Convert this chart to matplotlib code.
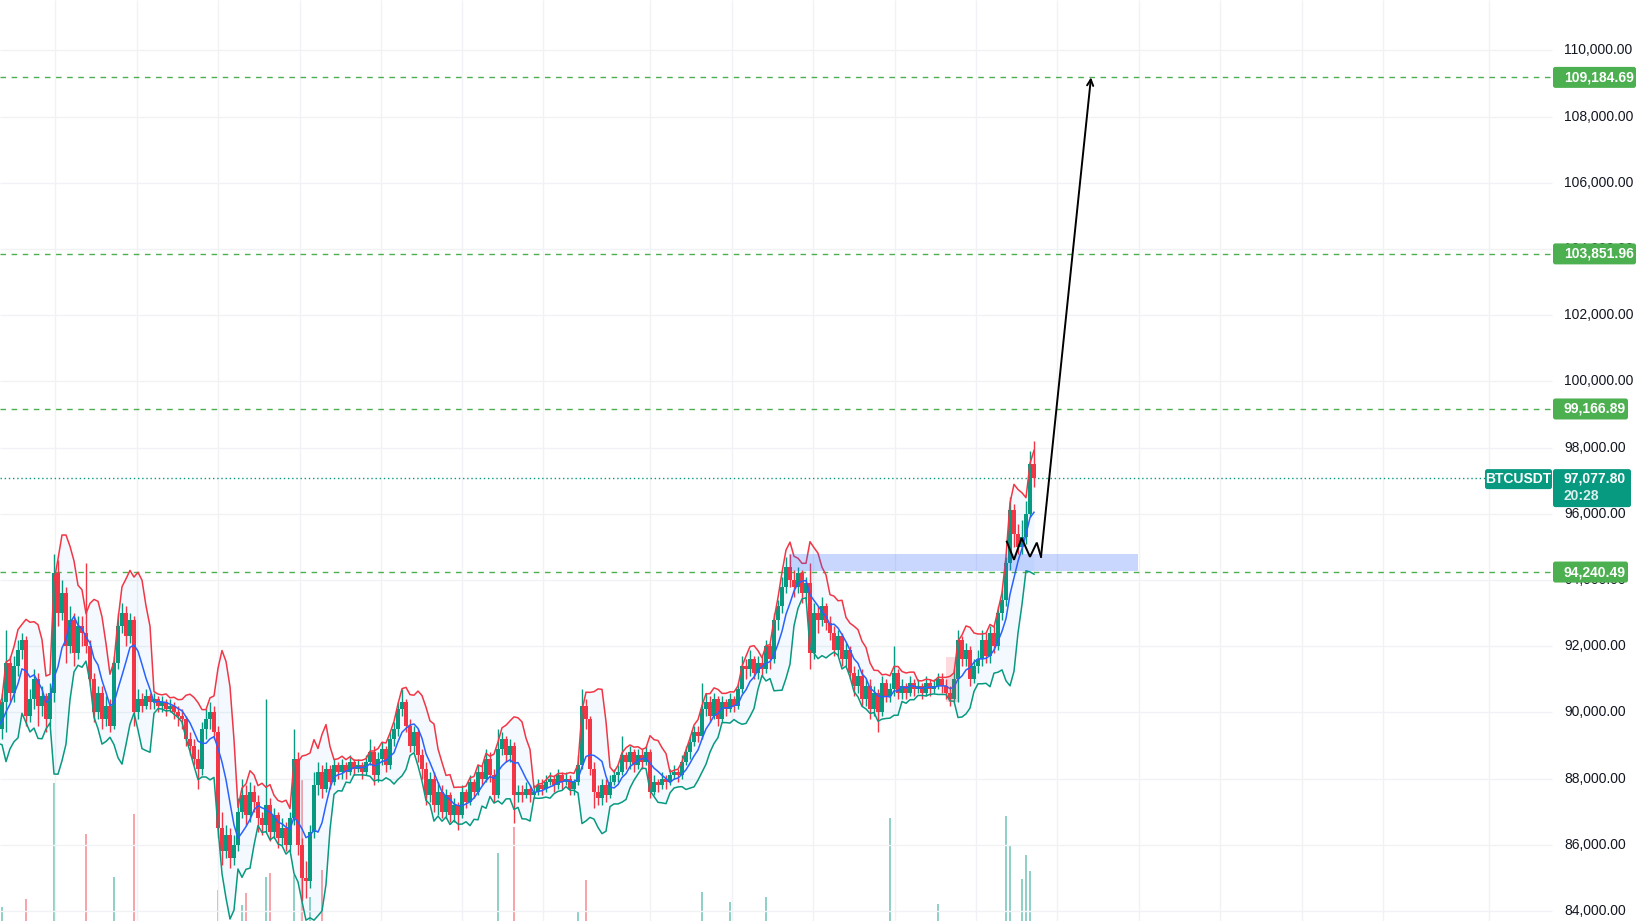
import matplotlib
matplotlib.use("Agg")
import matplotlib.pyplot as plt
from matplotlib.patches import FancyBboxPatch, Rectangle
import numpy as np
import pandas as pd

# BTCUSDT candles, prices in thousands of USDT.
# The first N_PRE candles sit left of the visible window (they only feed the bands).
N_PRE = 6
first_open = 89.6
close = [
    89.4, 89.8, 89.2, 89.6, 90.0, 89.5,
    90.3, 91.5, 90.6, 91.4, 91.9, 92.2, 89.9, 90.4, 91.0, 90.2,
    90.5, 89.8, 90.6, 94.2, 93.0, 93.6, 92.0, 92.8, 91.8, 92.6,
    92.4, 92.0, 91.0, 90.0, 90.6, 89.8, 90.2, 89.6, 91.5, 92.6,
    93.0, 92.3, 92.8, 90.0, 90.4, 90.2, 90.5, 90.3, 90.4, 90.2,
    90.3, 90.1, 90.2, 90.0, 89.9, 89.8, 89.2, 89.0, 88.6, 88.3,
    89.5, 89.8, 90.0, 89.4, 86.5, 85.8, 86.3, 85.6, 86.0, 87.0,
    87.5, 86.9, 87.6, 87.3, 86.8, 86.6, 87.2, 86.4, 86.9, 86.2,
    86.5, 86.0, 86.8, 88.6, 86.0, 85.0, 84.9, 86.4, 87.8, 88.2,
    87.7, 88.3, 87.9, 88.4, 88.2, 88.4, 88.2, 88.5, 88.3, 88.4,
    88.2, 88.5, 88.8, 88.1, 88.6, 88.9, 88.4, 89.2, 89.5, 90.1,
    90.3, 89.6, 89.0, 89.4, 88.7, 88.3, 87.5, 88.0, 87.2, 87.6,
    87.0, 87.5, 86.9, 87.2, 86.9, 87.6, 87.3, 87.9, 87.6, 88.2,
    88.0, 88.6, 88.1, 87.5, 88.9, 89.2, 88.7, 89.0, 87.5, 87.6,
    87.5, 87.7, 87.5, 87.6, 87.8, 87.7, 87.9, 88.0, 87.8, 88.1,
    87.9, 88.0, 87.7, 87.9, 88.4, 90.2, 89.8, 88.3, 87.6, 87.4,
    87.8, 87.5, 87.9, 88.1, 88.2, 88.7, 88.5, 88.8, 88.4, 88.7,
    88.5, 88.8, 87.6, 87.9, 87.8, 88.0, 87.9, 88.1, 88.2, 88.1,
    88.5, 88.8, 89.1, 89.4, 89.3, 90.1, 90.3, 89.9, 90.4, 89.8,
    90.3, 90.1, 90.4, 90.2, 90.7, 91.4, 91.3, 91.6, 91.2, 91.5,
    91.3, 92.0, 91.6, 92.8, 93.2, 93.8, 94.4, 94.0, 93.8, 94.2,
    93.6, 93.9, 91.8, 93.0, 92.8, 93.2, 92.7, 92.4, 91.9, 92.3,
    91.6, 91.9, 91.2, 90.8, 91.1, 90.4, 90.8, 90.1, 90.6, 90.0,
    90.9, 90.5, 90.7, 91.2, 90.6, 90.8, 90.6, 90.9, 90.7, 90.8,
    90.6, 90.9, 90.7, 90.8, 91.0, 90.8, 90.6, 90.4, 91.0, 92.2,
    91.6, 91.9, 91.0, 91.4, 91.6, 92.2, 91.7, 92.4, 92.0, 93.0,
    93.4, 94.5, 96.1, 95.4, 95.0, 95.3, 96.0, 97.5, 97.0778,
]
high = [
    89.8, 90.0, 89.9, 89.8, 90.2, 90.1,
    90.6, 92.5, 91.7, 91.7, 92.2, 92.4, 92.3, 90.7, 91.3, 91.2,
    90.8, 90.6, 90.9, 94.8, 94.6, 94.0, 93.8, 93.2, 93.0, 92.9,
    92.9, 94.5, 92.2, 91.2, 90.8, 90.8, 90.5, 90.4, 91.7, 93.0,
    93.3, 93.2, 93.0, 92.9, 90.7, 90.6, 90.7, 90.6, 90.6, 90.5,
    90.5, 90.4, 90.4, 90.3, 90.2, 90.1, 89.9, 89.4, 89.2, 88.9,
    89.7, 90.1, 90.3, 90.2, 89.6, 87.0, 86.6, 86.5, 86.3, 87.4,
    88.0, 87.8, 87.9, 87.8, 87.5, 87.0, 90.4, 87.4, 87.1, 87.0,
    86.8, 86.7, 87.0, 89.5, 88.8, 86.2, 85.5, 86.6, 88.2, 88.5,
    88.4, 88.5, 88.4, 88.6, 88.5, 88.6, 88.5, 88.7, 88.6, 88.6,
    88.5, 88.7, 89.2, 89.0, 88.8, 89.1, 89.0, 89.4, 89.7, 90.3,
    90.7, 90.4, 89.8, 89.6, 89.5, 88.9, 88.5, 88.2, 88.2, 87.9,
    87.8, 87.7, 87.6, 87.4, 87.3, 87.8, 87.7, 88.1, 88.0, 88.4,
    88.4, 88.9, 88.8, 88.3, 89.5, 89.4, 89.3, 89.2, 89.1, 87.8,
    87.8, 87.9, 87.8, 87.8, 88.0, 88.0, 88.1, 88.2, 88.1, 88.3,
    88.2, 88.2, 88.1, 88.0, 88.7, 90.7, 90.4, 89.9, 88.5, 87.8,
    88.0, 88.0, 88.1, 88.3, 88.4, 89.3, 88.8, 89.0, 88.9, 88.9,
    88.9, 89.0, 88.9, 88.1, 88.0, 88.2, 88.1, 88.3, 88.4, 88.3,
    88.7, 89.0, 89.3, 89.6, 89.6, 90.9, 90.6, 90.5, 90.6, 90.5,
    90.5, 90.4, 90.6, 90.5, 90.9, 91.7, 91.6, 91.9, 91.7, 91.7,
    91.7, 92.2, 92.1, 93.0, 93.4, 94.1, 94.7, 94.8, 94.3, 94.4,
    94.3, 94.1, 94.5, 93.3, 93.2, 93.5, 93.3, 92.9, 92.6, 92.5,
    92.4, 92.1, 92.0, 91.4, 91.3, 91.3, 91.0, 91.0, 90.8, 90.7,
    91.1, 91.0, 90.9, 92.0, 91.3, 91.0, 90.9, 91.1, 91.0, 91.0,
    90.9, 91.1, 91.0, 91.0, 91.2, 91.2, 91.0, 90.8, 91.3, 92.5,
    92.3, 92.1, 92.0, 91.6, 91.9, 92.5, 92.4, 92.6, 92.6, 93.2,
    93.7, 94.7, 96.5, 96.3, 95.7, 95.8, 96.4, 97.9, 98.2,
]
low = [
    89.2, 89.3, 89.0, 89.1, 89.5, 89.3,
    89.2, 89.4, 90.3, 90.3, 91.1, 91.6, 89.6, 89.7, 90.1, 89.6,
    89.9, 89.4, 89.6, 90.3, 92.6, 92.8, 91.5, 91.8, 91.4, 91.6,
    92.0, 91.8, 90.8, 89.7, 89.8, 89.5, 89.6, 89.4, 89.5, 91.3,
    92.4, 92.0, 92.1, 89.6, 89.8, 90.0, 90.1, 90.1, 90.1, 90.0,
    90.0, 89.9, 90.0, 89.8, 89.6, 89.5, 89.0, 88.7, 88.4, 87.7,
    88.1, 89.2, 89.5, 89.2, 86.2, 85.4, 85.6, 85.3, 85.4, 85.8,
    86.8, 86.6, 86.7, 87.0, 86.4, 86.3, 86.4, 86.1, 86.2, 85.9,
    86.0, 85.8, 85.8, 86.6, 85.7, 84.3, 84.4, 84.7, 86.2, 87.5,
    87.4, 87.6, 87.7, 87.8, 88.0, 88.0, 88.0, 88.1, 88.1, 88.2,
    88.0, 88.1, 88.4, 87.8, 87.9, 88.4, 88.2, 88.3, 89.0, 89.3,
    89.9, 89.4, 88.8, 88.8, 88.5, 88.0, 87.2, 87.3, 87.0, 86.9,
    86.8, 86.8, 86.7, 86.7, 86.45, 86.8, 87.1, 87.2, 87.4, 87.5,
    87.8, 87.9, 87.9, 87.3, 87.4, 88.7, 88.5, 88.5, 86.65, 87.3,
    87.3, 87.4, 87.3, 87.4, 87.5, 87.5, 87.6, 87.8, 87.6, 87.7,
    87.7, 87.8, 87.5, 87.5, 87.8, 88.3, 89.5, 88.1, 87.1, 87.2,
    87.2, 87.3, 87.4, 87.8, 87.9, 88.1, 88.3, 88.3, 88.2, 88.3,
    88.3, 88.4, 87.4, 87.5, 87.6, 87.7, 87.7, 87.8, 88.0, 87.9,
    88.0, 88.4, 88.6, 89.0, 89.1, 89.2, 89.9, 89.7, 89.8, 89.6,
    89.7, 89.9, 90.0, 90.0, 90.1, 90.6, 91.0, 91.1, 91.0, 91.0,
    91.1, 91.2, 91.3, 91.5, 92.5, 93.0, 93.6, 93.8, 93.5, 93.6,
    93.3, 93.4, 91.3, 91.6, 92.4, 92.6, 92.5, 92.2, 91.7, 91.7,
    91.4, 91.4, 91.0, 90.5, 90.6, 90.2, 90.2, 89.8, 89.9, 89.4,
    89.9, 90.3, 90.3, 90.5, 90.4, 90.4, 90.4, 90.5, 90.5, 90.6,
    90.4, 90.5, 90.5, 90.6, 90.7, 90.6, 90.4, 90.2, 90.3, 90.3,
    91.4, 91.4, 90.8, 90.9, 91.2, 91.4, 91.5, 91.5, 91.8, 91.9,
    92.8, 93.2, 94.3, 95.0, 94.8, 94.8, 95.1, 95.9, 96.8,
]

# visible volume spikes: candle number (0 = first visible candle) and size
vol_idx = [0, 6, 13, 21, 28, 33, 54, 60, 61, 66, 67, 73, 75, 77, 80, 124, 128,
           144, 146, 175, 182, 191, 222, 234, 251, 252, 255, 256, 257]
vol_val = [140, 220, 1380, 870, 440, 1070, 310, 160, 280, 440, 480, 460, 1410,
           240, 510, 680, 940, 90, 410, 290, 190, 240, 1030, 170, 1050, 760,
           420, 660, 500]

symbol = "BTCUSDT"
last_price = 97077.80
countdown = "20:28"
target_levels = [109184.69, 103851.96, 99166.89, 94240.49]
tick_prices = list(range(84000, 110001, 2000))

# drawn zone and projected path (candle number, price)
zone_idx = (196.75, 284.0)
zone_price = (94270, 94790)
path_idx = [251.2, 253.0, 254.9, 257.0, 258.7, 259.75]
path_price = [95160, 94610, 95270, 94700, 95130, 94700]
arrow_tip = (272.25, 109184.69)

UP = "#089981"
DOWN = "#f23645"
GREEN = "#4caf50"
TEXT = "#131722"
GRID = "#f0f2f5"

W, H = 1645, 921


def px_x(p):
    # pixel column -> candle number (one candle every 4 px)
    return (p - 2) / 4.0


def px_h(p):
    # pixel height -> price span
    return p * 1000 / 33.1


plt.rcParams["font.family"] = ["Liberation Sans", "DejaVu Sans"]

fig = plt.figure(figsize=(W / 100, H / 100), dpi=100)
fig.patch.set_facecolor("white")
ax = fig.add_axes([0, 0, 1, 1])
axv = ax.twinx()
ax.set_zorder(axv.get_zorder() + 1)
ax.patch.set_visible(False)

ymin = 110000 - (H - 50.4) / 33.1 * 1000
ymax = 110000 + 50.4 / 33.1 * 1000
xmin, xmax = px_x(0), px_x(W)
plot_right = px_x(1552)

# grid
ax.hlines(tick_prices, xmin, plot_right, color=GRID, lw=1, zorder=0)
grid_px = [55, 137, 218, 300, 381, 462, 543, 650, 732, 813, 895, 976, 1057,
           1139, 1220, 1302, 1383, 1489]
ax.vlines([px_x(g) for g in grid_px], ymin, ymax, color=GRID, lw=1, zorder=0)

c = np.array(close) * 1000
h = np.array(high) * 1000
lo = np.array(low) * 1000
o = np.r_[first_open * 1000, c[:-1]]
x = np.arange(len(c)) - N_PRE
up = c >= o
cols = np.where(up, UP, DOWN)

# volume
vi = np.array(vol_idx)
axv.bar(vi, vol_val, width=0.7, color=cols[vi + N_PRE], alpha=0.45, lw=0)
axv.set_ylim(0, 9210)
axv.axis("off")

# bollinger bands (20 hour window ~ 6 of these candles)
s = pd.Series(c)
mid = s.rolling(6).mean().values
sd = s.rolling(6).std(ddof=0).values
upper = mid + 2 * sd
lower = mid - 2 * sd
vis = x >= -1
ax.fill_between(x[vis], lower[vis], upper[vis], color="#2196f3", alpha=0.05, lw=0, zorder=1)
ax.plot(x[vis], upper[vis], color=DOWN, lw=1.1, zorder=4)
ax.plot(x[vis], lower[vis], color=UP, lw=1.1, zorder=4)
ax.plot(x[vis], mid[vis], color="#2962ff", lw=1.1, zorder=4)

# candles
ax.vlines(x, lo, h, colors=cols, lw=1.0, zorder=3)
body = np.maximum(np.abs(c - o), 25)
ax.bar(x, body, bottom=np.minimum(o, c), width=0.78, color=cols, lw=0, zorder=3)

# target levels and last price line
for lv in target_levels:
    ax.hlines(lv, xmin, plot_right, color=GREEN, lw=1.0, linestyles=(0, (4, 4)), zorder=2)
ax.hlines(last_price, xmin, plot_right, color=UP, lw=1.0, linestyles=(0, (1, 2)), zorder=2)

# zone boxes
ax.add_patch(Rectangle((zone_idx[0], zone_price[0]), zone_idx[1] - zone_idx[0],
                       zone_price[1] - zone_price[0], fc="#2962ff", alpha=0.25, lw=0, zorder=5))
ax.add_patch(Rectangle((px_x(946), 90320), px_x(958) - px_x(946), 1360,
                       fc=DOWN, alpha=0.18, lw=0, zorder=5))

# projected path
ax.plot(path_idx, path_price, color="black", lw=1.4, zorder=6, solid_joinstyle="miter")
ax.annotate("", xy=arrow_tip, xytext=(path_idx[-1], path_price[-1]),
            arrowprops=dict(arrowstyle="->", color="black", lw=1.4,
                            mutation_scale=11, shrinkA=0, shrinkB=0), zorder=6)

# right price scale
for tp in tick_prices:
    ax.text(px_x(1564), tp, f"{tp:,.2f}", ha="left", va="center",
            fontsize=10, color=TEXT, zorder=7)

asp = px_h(1) / 0.25


def tag(x0, x1, yc, hpx, fc, z=9):
    hh = px_h(hpx)
    ax.add_patch(FancyBboxPatch((px_x(x0), yc - hh / 2), px_x(x1) - px_x(x0), hh,
                                boxstyle="round,pad=0,rounding_size=0.6",
                                mutation_aspect=asp, fc=fc, ec="none", zorder=z))


for lv in target_levels:
    lab = f"{lv:,.2f}"
    w = 8 * len(lab) + 3
    tag(1553, 1553 + w, lv, 21, GREEN)
    ax.text(px_x(1564), lv, lab, ha="left", va="center", fontsize=10,
            fontweight="bold", color="white", zorder=10)

# last price tag with countdown
tag(1553, 1631, last_price - px_h(10), 38, UP)
ax.text(px_x(1564), last_price, f"{last_price:,.2f}", ha="left", va="center",
        fontsize=10, fontweight="bold", color="white", zorder=10)
ax.text(px_x(1564), last_price - px_h(17.5), countdown, ha="left", va="center",
        fontsize=10, fontweight="bold", color="white", alpha=0.85, zorder=10)
tag(1485, 1552, last_price - px_h(1), 20, UP)
ax.text(px_x(1518.5), last_price - px_h(1), symbol, ha="center", va="center",
        fontsize=10, fontweight="bold", color="white", zorder=10)

ax.set_xlim(xmin, xmax)
ax.set_ylim(ymin, ymax)
ax.axis("off")

fig.savefig("out.png", dpi=100, facecolor="white")
